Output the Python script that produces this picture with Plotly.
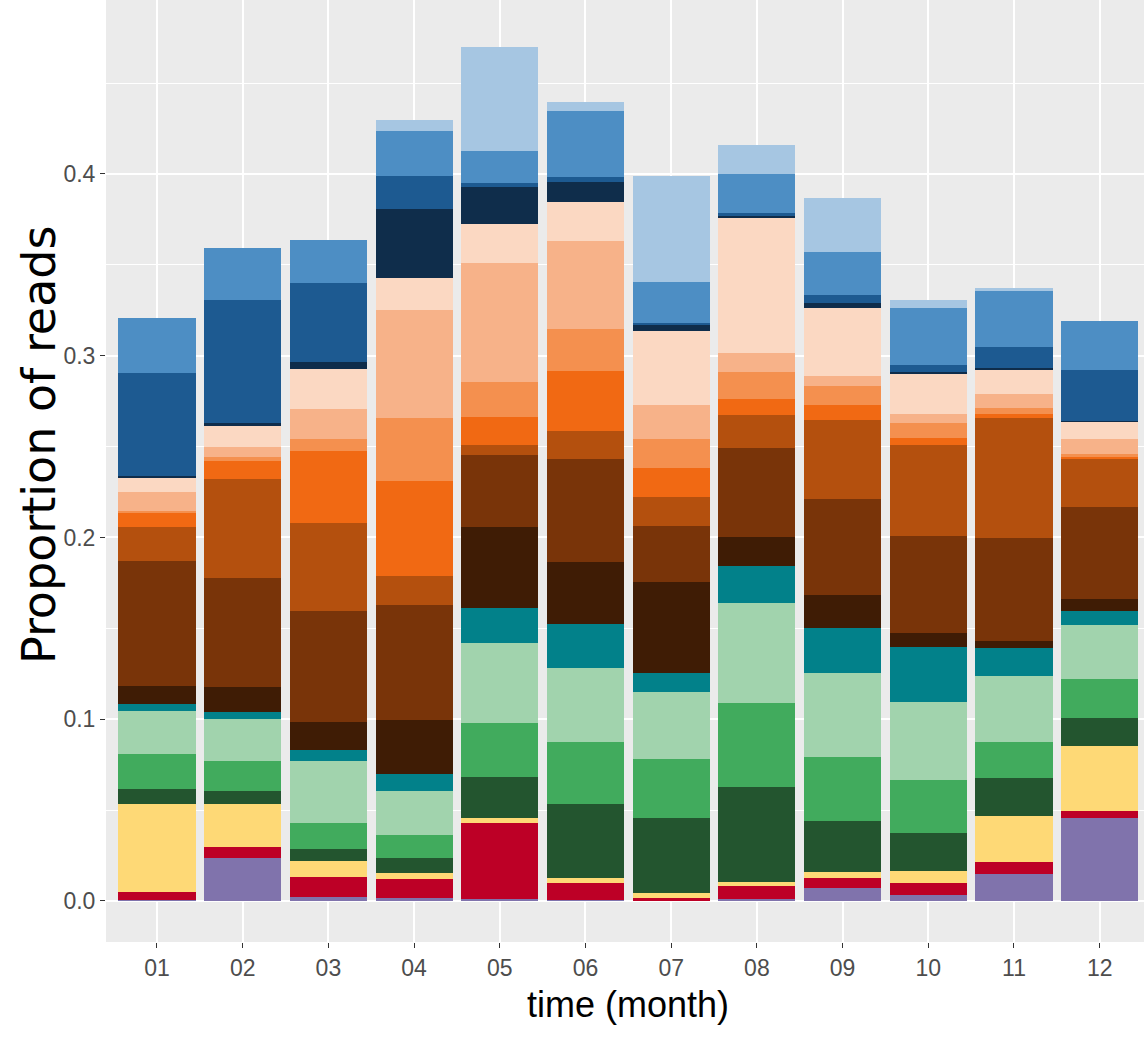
import plotly.graph_objects as go

months = ["01", "02", "03", "04", "05", "06", "07", "08", "09", "10", "11", "12"]

# stacked from bottom to top
purple   = [0.0005, 0.0235, 0.0024, 0.0018, 0.0009, 0.0003, 0.0000, 0.0011, 0.0073, 0.0033, 0.0147, 0.0458]
red      = [0.0046, 0.0064, 0.0106, 0.0101, 0.0420, 0.0094, 0.0018, 0.0072, 0.0055, 0.0064, 0.0069, 0.0039]
yellow   = [0.0483, 0.0235, 0.0090, 0.0033, 0.0029, 0.0030, 0.0024, 0.0023, 0.0030, 0.0070, 0.0253, 0.0356]
dkgreen  = [0.0081, 0.0073, 0.0064, 0.0083, 0.0226, 0.0408, 0.0413, 0.0520, 0.0284, 0.0209, 0.0206, 0.0156]
green    = [0.0192, 0.0163, 0.0147, 0.0128, 0.0295, 0.0338, 0.0325, 0.0465, 0.0352, 0.0290, 0.0202, 0.0211]
ltgreen  = [0.0240, 0.0230, 0.0339, 0.0244, 0.0438, 0.0411, 0.0372, 0.0548, 0.0459, 0.0427, 0.0363, 0.0299]
teal     = [0.0037, 0.0042, 0.0061, 0.0092, 0.0195, 0.0241, 0.0101, 0.0202, 0.0247, 0.0306, 0.0150, 0.0078]
vdbrown  = [0.0099, 0.0137, 0.0156, 0.0297, 0.0446, 0.0342, 0.0504, 0.0159, 0.0183, 0.0074, 0.0042, 0.0065]
dbrown   = [0.0688, 0.0600, 0.0610, 0.0631, 0.0398, 0.0565, 0.0308, 0.0490, 0.0527, 0.0537, 0.0567, 0.0504]
brorange = [0.0185, 0.0541, 0.0484, 0.0161, 0.0054, 0.0153, 0.0160, 0.0186, 0.0434, 0.0499, 0.0660, 0.0264]
orange   = [0.0077, 0.0101, 0.0395, 0.0525, 0.0152, 0.0330, 0.0156, 0.0086, 0.0083, 0.0040, 0.0021, 0.0015]
ltorange = [0.0013, 0.0020, 0.0064, 0.0343, 0.0193, 0.0231, 0.0161, 0.0150, 0.0106, 0.0083, 0.0034, 0.0014]
lighter  = [0.0106, 0.0059, 0.0165, 0.0596, 0.0657, 0.0485, 0.0187, 0.0101, 0.0055, 0.0046, 0.0076, 0.0081]
peach    = [0.0077, 0.0114, 0.0220, 0.0178, 0.0211, 0.0215, 0.0409, 0.0745, 0.0373, 0.0222, 0.0132, 0.0096]
navy     = [0.0011, 0.0014, 0.0042, 0.0376, 0.0204, 0.0108, 0.0031, 0.0016, 0.0027, 0.0012, 0.0009, 0.0007]
dkblue   = [0.0563, 0.0679, 0.0435, 0.0183, 0.0022, 0.0031, 0.0013, 0.0011, 0.0044, 0.0037, 0.0119, 0.0279]
medblue  = [0.0303, 0.0286, 0.0235, 0.0249, 0.0179, 0.0362, 0.0225, 0.0215, 0.0240, 0.0315, 0.0308, 0.0271]
ltblue   = [0.0000, 0.0000, 0.0000, 0.0059, 0.0572, 0.0051, 0.0582, 0.0161, 0.0294, 0.0043, 0.0013, 0.0000]

series = [
    ("purple", purple, "#8073AC"),
    ("red", red, "#BD0026"),
    ("yellow", yellow, "#FED976"),
    ("dkgreen", dkgreen, "#23552F"),
    ("green", green, "#41AB5D"),
    ("ltgreen", ltgreen, "#A1D3AD"),
    ("teal", teal, "#02818A"),
    ("vdbrown", vdbrown, "#3F1C05"),
    ("dbrown", dbrown, "#793409"),
    ("brorange", brorange, "#B4500E"),
    ("orange", orange, "#F16913"),
    ("ltorange", ltorange, "#F4904F"),
    ("lighter", lighter, "#F7B289"),
    ("peach", peach, "#FBD8C2"),
    ("navy", navy, "#0F2D4B"),
    ("dkblue", dkblue, "#1D5A91"),
    ("medblue", medblue, "#4D8EC4"),
    ("ltblue", ltblue, "#A6C6E2"),
]

xpos = list(range(len(months)))

fig = go.Figure()
for name, vals, col in series:
    fig.add_trace(go.Bar(
        x=xpos, y=vals, name=name, width=0.9,
        marker=dict(color=col, line=dict(width=0)),
        showlegend=False,
    ))

font_fam = "Liberation Sans, Arial, sans-serif"

fig.update_layout(
    barmode="stack",
    width=1144, height=1037,
    margin=dict(l=106, r=0, t=0, b=95),
    paper_bgcolor="white",
    plot_bgcolor="#EBEBEB",
    font=dict(family=font_fam),
    xaxis=dict(
        range=[-0.595, 11.517],
        tickmode="array", tickvals=xpos, ticktext=months,
        showgrid=True, gridcolor="white", gridwidth=1.5,
        zeroline=False,
        ticks="outside", ticklen=5, tickcolor="#333333", tickwidth=1,
        tickfont=dict(size=23, color="#4D4D4D"),
    ),
    yaxis=dict(
        range=[-0.02256, 0.4957],
        tickmode="array", tickvals=[0.0, 0.1, 0.2, 0.3, 0.4],
        ticktext=["0.0", "0.1", "0.2", "0.3", "0.4"],
        showgrid=True, gridcolor="white", gridwidth=1.5,
        minor=dict(tickvals=[0.05, 0.15, 0.25, 0.35, 0.45], showgrid=True,
                   gridcolor="white", gridwidth=0.7, ticks=""),
        zeroline=False,
        ticks="outside", ticklen=5, tickcolor="#333333", tickwidth=1,
        tickfont=dict(size=23, color="#4D4D4D"),
    ),
    annotations=[
        dict(text="time (month)", xref="paper", yref="paper",
             x=0.5, y=0, xanchor="center", yanchor="middle",
             xshift=3, yshift=-62, showarrow=False,
             font=dict(size=36, color="black", family=font_fam)),
        dict(text="Proportion of reads", xref="paper", yref="paper",
             x=0, y=(942 - 445) / 942, xanchor="center", yanchor="middle",
             xshift=-67, textangle=-90, showarrow=False,
             font=dict(size=46, color="black", family="DejaVu Sans, sans-serif")),
    ],
)

fig.write_html("out.html")
